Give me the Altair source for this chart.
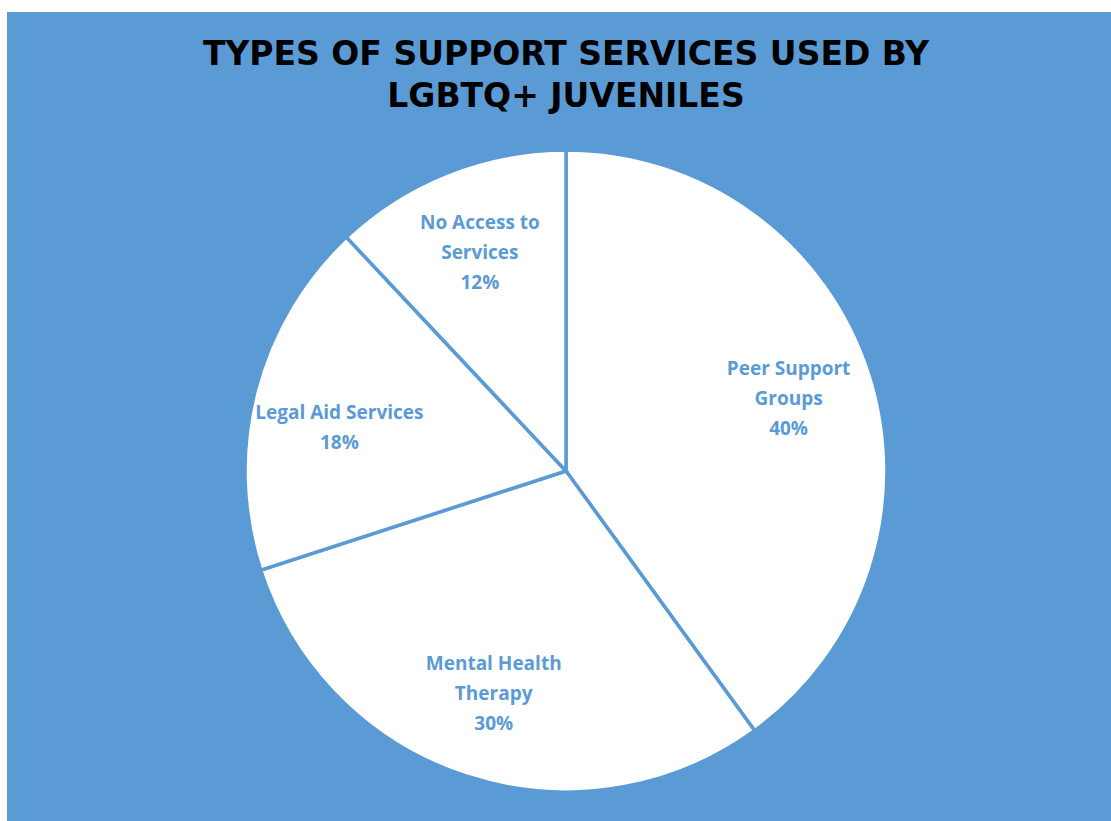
import altair as alt
import pandas as pd

categories = ["Peer Support Groups", "Mental Health Therapy", "Legal Aid Services", "No Access to Services"]
values = [40, 30, 18, 12]
label_lines = [
    ["Peer Support", "Groups", "40%"],
    ["Mental Health", "Therapy", "30%"],
    ["", "Legal Aid Services", "18%"],
    ["No Access to", "Services", "12%"],
]
title_lines = ["TYPES OF SUPPORT SERVICES USED BY", "LGBTQ+ JUVENILES"]

df = pd.DataFrame({
    "category": categories,
    "value": values,
    "order": list(range(len(categories))),
    "label": ["\n".join(l) for l in label_lines],
})

BLUE = "#5B9BD5"
CX, CY, R = 559, 459, 321

base = alt.Chart(df).encode(
    theta=alt.Theta("value:Q", stack=True),
    order=alt.Order("order:Q"),
)

pie = base.mark_arc(fill="white", stroke=BLUE, strokeWidth=3.5).encode(
    x=alt.value(CX), y=alt.value(CY), radius=alt.value(R)
)

labels = base.mark_text(
    font="Open Sans", fontWeight="bold", fontSize=19, color=BLUE,
    lineBreak="\n", lineHeight=30, align="center", baseline="middle", dy=-30,
).encode(
    x=alt.value(CX), y=alt.value(CY), radius=alt.value(234), text="label:N"
)

title = alt.Chart(pd.DataFrame({"t": [0]})).mark_text(
    font="DejaVu Sans", fontWeight="bold", fontSize=33, color="black",
    lineHeight=42, align="center", baseline="middle",
).encode(
    x=alt.value(CX), y=alt.value(43), text=alt.value(title_lines)
)

chart = alt.layer(pie, labels, title).properties(
    width=1104, height=809,
    padding={"left": 7, "top": 12, "right": 0, "bottom": 0},
    autosize=alt.AutoSizeParams(type="none"),
    background="white",
).configure_view(fill=BLUE, strokeWidth=0)

chart.save("out.html", embed_options={"renderer": "svg", "actions": False})
